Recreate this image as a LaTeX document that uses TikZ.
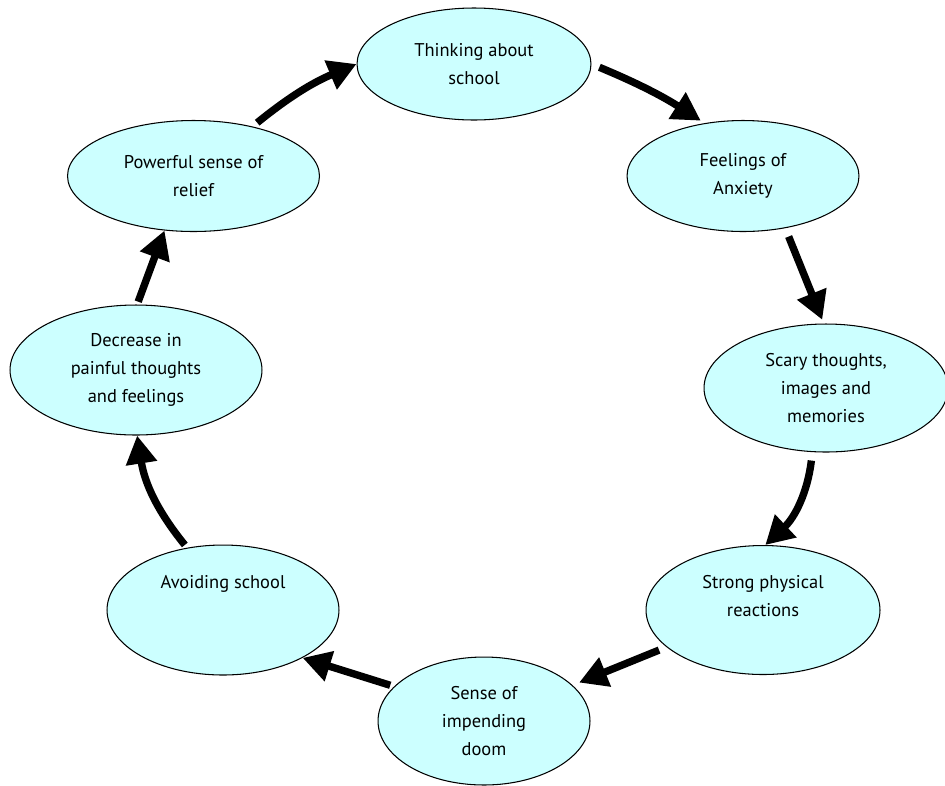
\documentclass[tikz,border=0pt]{standalone}
\usepackage{fontspec}
\setmainfont{PT Sans}
\usetikzlibrary{shapes.geometric,arrows.meta}
\definecolor{bubblefill}{HTML}{CCFFFF}
\begin{document}
\begin{tikzpicture}[x=0.02cm,y=-0.02cm,
        bubble/.style={ellipse,draw,line width=0.6pt,fill=bubblefill,inner sep=0pt,align=center,
            font=\fontsize{10.5}{15.9}\selectfont},
        flow/.style={-{Triangle[length=16pt,width=17pt]},line width=4.2pt}]
                \useasboundingbox (0,0) rectangle (945,785);
                \node [bubble,minimum width=4.68cm,minimum height=2.24cm] (think) at (474,64) {Thinking about\\school};
                \node [bubble,minimum width=4.64cm,minimum height=2.22cm] (anxiety) at (743,176) {Feelings of\\Anxiety};
                \node [bubble,minimum width=4.88cm,minimum height=2.56cm] (scary) at (826,388) {Scary thoughts,\\images and\\memories};
                \node [bubble,minimum width=4.68cm,minimum height=2.58cm] (strong) at (763,610) {Strong physical\\reactions\\\mbox{}};
                \node [bubble,minimum width=4.24cm,minimum height=2.56cm] (doom) at (484,721) {Sense of\\impending\\doom};
                \node [bubble,minimum width=4.64cm,minimum height=2.60cm] (avoid) at (223,610) {Avoiding school\\\mbox{}\\\mbox{}};
                \node [bubble,minimum width=5.04cm,minimum height=2.60cm] (decrease) at (136,370) {Decrease in\\painful thoughts\\and feelings};
                \node [bubble,minimum width=5.04cm,minimum height=2.22cm] (relief) at (193.5,176) {Powerful sense of\\relief};
                \draw [flow,shorten <=0.12cm] (relief.40) to [bend left=8] (think.west);
                \draw [flow,shorten <=0.17cm,shorten >=0.09cm] (think.east) to [bend left=5] (anxiety.126);
                \draw [flow,shorten <=0.18cm,shorten >=0.08cm] (anxiety.-51) -- (scary.92);
                \draw [flow,shorten <=0.17cm] (scary.-102) to [bend left=20] (strong.88);
                \draw [flow,shorten <=0.16cm,shorten >=0.14cm] (strong.201) -- (doom.22);
                \draw [flow,shorten <=0.08cm] (doom.159) -- (avoid.-31);
                \draw [flow,shorten <=0.07cm] (avoid.120) to [bend left=15] (decrease.-89);
                \draw [flow,shorten <=0.06cm] (decrease.89) -- (relief.-118);
\end{tikzpicture}
\end{document}
